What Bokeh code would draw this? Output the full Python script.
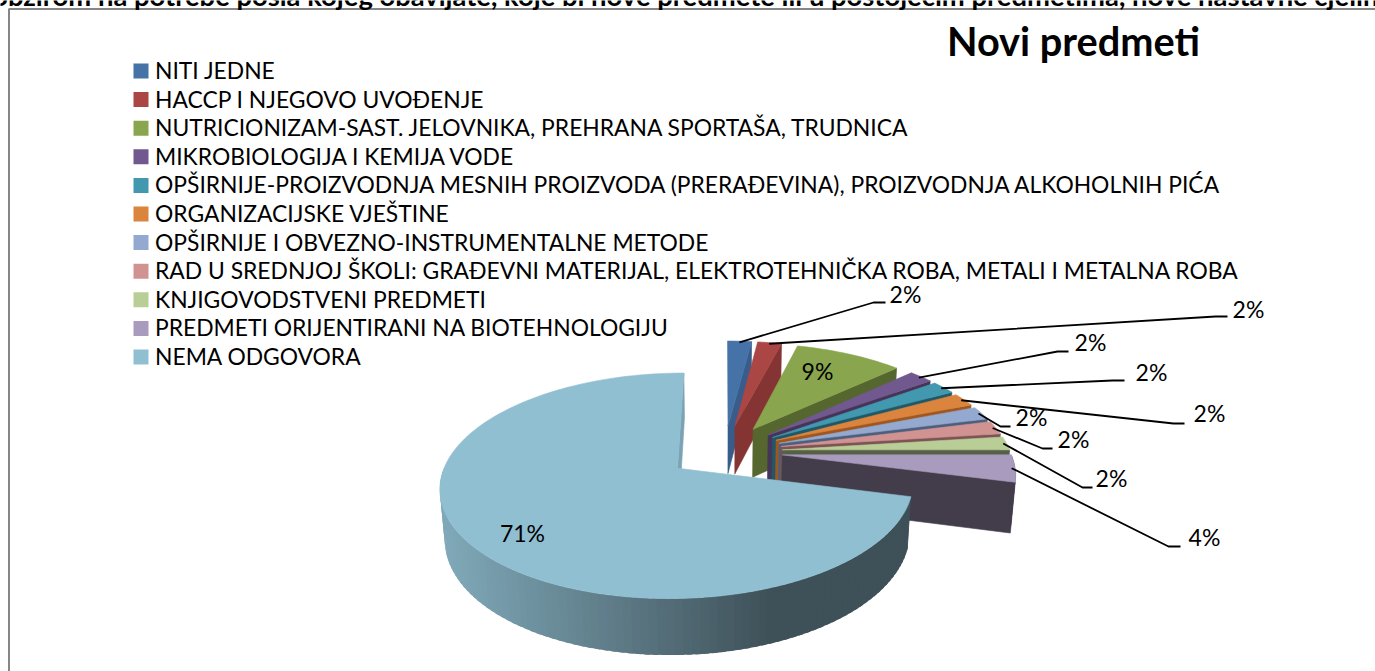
import math
from bokeh.plotting import figure
from bokeh.models import Range1d
from bokeh.core.properties import value
from bokeh.embed import file_html
from bokeh.resources import INLINE

# ---------- data ----------
categories = [
    "NITI JEDNE",
    "HACCP I NJEGOVO UVOĐENJE",
    "NUTRICIONIZAM-SAST. JELOVNIKA, PREHRANA SPORTAŠA, TRUDNICA",
    "MIKROBIOLOGIJA I KEMIJA VODE",
    "OPŠIRNIJE-PROIZVODNJA MESNIH PROIZVODA (PRERAĐEVINA), PROIZVODNJA ALKOHOLNIH PIĆA",
    "ORGANIZACIJSKE VJEŠTINE",
    "OPŠIRNIJE I OBVEZNO-INSTRUMENTALNE METODE",
    "RAD U SREDNJOJ ŠKOLI: GRAĐEVNI MATERIJAL, ELEKTROTEHNIČKA ROBA, METALI I METALNA ROBA",
    "KNJIGOVODSTVENI PREDMETI",
    "PREDMETI ORIJENTIRANI NA BIOTEHNOLOGIJU",
    "NEMA ODGOVORA",
]
values = [2, 2, 9, 2, 2, 2, 2, 2, 2, 4, 71]
title_text = "Novi predmeti"
top_text = "S obzirom na potrebe posla kojeg obavljate, koje bi nove predmete ili u postojećim predmetima, nove nastavne cjeline"

# ---------- styles / layout ----------
top_colors = ["#4572a7", "#aa4643", "#89a54e", "#71588f", "#4198af", "#db843d",
              "#93a9cf", "#d19392", "#b9cd96", "#a99bbd", "#90bfd2"]
wall_colors = ["#385d8a", "#843432", "#55672f", "#463459", "#205867", "#a0561f",
               "#4d5f7e", "#7d5353", "#566047", "#433d4b", "#7ba3b3"]
label_pos = [(905, 293), (1248, 308), (817, 370), (1090, 341), (1151, 371), (1209, 412),
             (1031, 416), (1073, 438), (1111, 477), (1204, 536), (522, 532)]
elbows = [(873, 302, 885), (1215, 316, 1227), None, (1057, 351, 1068), (1112, 380, 1124),
          (1173, 423, 1184), (1000, 426, 1010), (1042, 448, 1052), (1082, 487, 1092),
          (1168, 546, 1180), None]

VX, CY, D, K, R, E, H, DZ = 724, 451, 1500, 0.46, 228, 58, 50, 25
FONT = value("Lato")


def proj(X, Y, bottom=False):
    s = D / (D + Y + (DZ if bottom else 0))
    return VX + s * X, CY - s * K * Y + (s * H if bottom else 0)


def polar(a, r, off_x, off_y):
    return off_x + r * math.sin(a), off_y + r * math.cos(a)


p = figure(width=1375, height=671, x_range=Range1d(0, 1375), y_range=Range1d(671, 0),
           x_axis_location=None, y_axis_location=None, toolbar_location=None,
           output_backend="svg", tools="", min_border=0, outline_line_color=None)
p.grid.visible = False


def poly(xs, ys, color, stroke=True):
    p.patch(xs, ys, fill_color=color, line_color=color if stroke else None, line_width=0.6)


def lerp_hex(c1, c2, t):
    a = [int(c1[i:i + 2], 16) for i in (1, 3, 5)]
    b = [int(c2[i:i + 2], 16) for i in (1, 3, 5)]
    return "#%02x%02x%02x" % tuple(round(u + (v - u) * t) for u, v in zip(a, b))


total = sum(values)
cum = 0
anchors = []
for i, v in enumerate(values):
    a0 = 2 * math.pi * cum / total
    cum += v
    a1 = 2 * math.pi * cum / total
    mid = (a0 + a1) / 2
    ox, oy = E * math.sin(mid), E * math.cos(mid)
    n = max(4, int(v * 2))
    arc = [a0 + (a1 - a0) * j / n for j in range(n + 1)]

    # radial wall at the end angle
    ex, ey = polar(a1, R, ox, oy)
    t_a = proj(ox, oy)
    t_o = proj(ex, ey)
    b_o = proj(ex, ey, True)
    b_a = proj(ox, oy, True)
    poly([t_a[0], t_o[0], b_o[0], b_a[0]], [t_a[1], t_o[1], b_o[1], b_a[1]], wall_colors[i])

    # curved outer wall, only where it faces the viewer; each band overlaps the one before it
    for j in range(n):
        am = (arc[j] + arc[j + 1]) / 2
        if math.cos(am) >= 0:
            continue
        start = arc[j] - (arc[1] - arc[0]) * (0.6 if j > 0 else 0)
        q0 = polar(start, R, ox, oy)
        q1 = polar(arc[j + 1], R, ox, oy)
        a, b = proj(*q0), proj(*q1)
        c, d = proj(*q1, True), proj(*q0, True)
        col = wall_colors[i]
        if i == len(values) - 1:
            col = lerp_hex("#7fa8b8", "#3e5058", min(1, max(0, ((a[0] + b[0]) / 2 - 445) / 325)))
        poly([a[0], b[0], c[0], d[0]], [a[1], b[1], c[1], d[1]], col, stroke=False)

    # top surface
    pts = [proj(ox, oy)] + [proj(*polar(t, R, ox, oy)) for t in arc]
    poly([q[0] for q in pts], [q[1] for q in pts], top_colors[i])
    anchors.append(proj(*polar(mid, R * 0.985, ox, oy)))

# leader lines
for a, e in zip(anchors, elbows):
    if e is None:
        continue
    p.line([a[0], e[0], e[2]], [a[1], e[1], e[1]], line_color="black", line_width=1.8)

# percentage labels
p.text([q[0] for q in label_pos], [q[1] for q in label_pos],
       text=[f"{round(100 * v / total)}%" for v in values],
       text_font=FONT, text_font_size="23px", text_color="black",
       text_align="center", text_baseline="middle")

# legend
row_y = [70.5 + 28.6 * i for i in range(len(categories))]
p.rect([140.5] * len(categories), row_y, width=15, height=15, fill_color=top_colors, line_color=None)
p.text([154.5] * len(categories), [y - 1 for y in row_y], text=categories,
       text_font=FONT, text_font_size="22.85px", text_color="black",
       text_align="left", text_baseline="middle")

# title
p.text([1073], [40], text=[title_text], text_font=FONT, text_font_size="39.7px",
       text_font_style="bold", text_color="black", text_align="center", text_baseline="middle")

# chart frame
p.line([8.5, 8.5, 1375], [671, 8.5, 8.5], line_color="#868686", line_width=2)

# clipped line of document text above the chart
p.text([-30], [-5], text=[top_text], text_font=FONT, text_font_size="27.4px",
       text_font_style="bold", text_color="black", text_align="left", text_baseline="middle")

open("out.html", "w").write(file_html(p, INLINE))
